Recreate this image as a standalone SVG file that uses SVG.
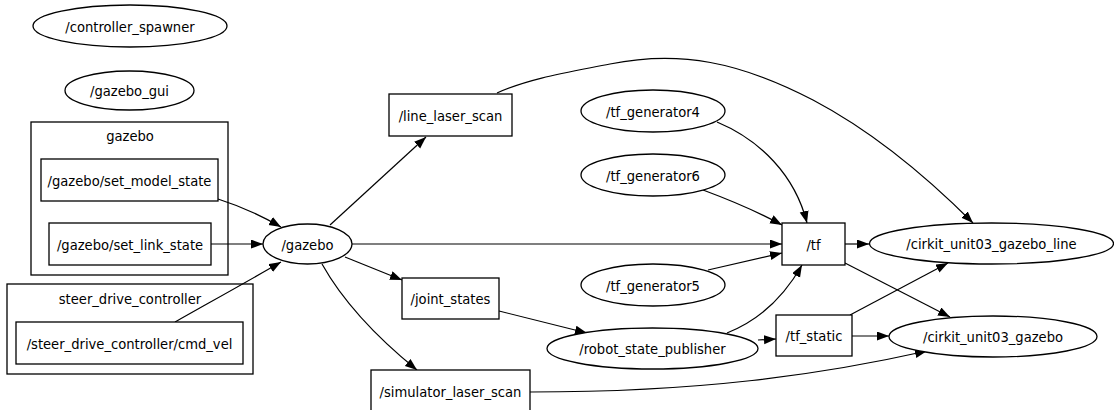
<svg xmlns="http://www.w3.org/2000/svg" width="1114" height="410" viewBox="0 0 1114 410">
<style>
.n{fill:#fff;stroke:#000;stroke-width:1.3}
.c{fill:none;stroke:#000;stroke-width:1.3}
text{font-family:"DejaVu Sans Condensed","DejaVu Sans",sans-serif;font-stretch:condensed;font-size:14.6px;text-anchor:middle;dominant-baseline:central;fill:#000}
#edges path{fill:none;stroke:#000;stroke-width:1.2;marker-end:url(#ah)}
</style>
<defs>
<marker id="ah" markerUnits="userSpaceOnUse" markerWidth="13" markerHeight="10" refX="12" refY="4.5" orient="auto">
<path d="M0,0 L12,4.5 L0,9 z" fill="#000"/>
</marker>
</defs>
<rect width="1114" height="410" fill="#fff"/>
<g id="cluster_gazebo"><rect class="c" x="31" y="122" width="197" height="153"/><text x="130" y="135">gazebo</text></g>
<g id="cluster_steer"><rect class="c" x="7" y="284" width="246" height="90"/><text x="130" y="298">steer_drive_controller</text></g>
<g id="edges">
<path d="M218,199 C240,206 262,216 281,227"/>
<path d="M211,244 L263,244"/>
<path d="M175,322 C205,305 250,280 281,262"/>
<path d="M330,225 L426,137"/>
<path d="M352,244 L782,244"/>
<path d="M345,257 L402,280"/>
<path d="M322,264 C345,305 380,340 417,370"/>
<path d="M497,93 C530,78 570,72 610,64 C680,50 740,62 813,100 C870,130 925,175 973,223"/>
<path d="M717,122 C760,140 795,175 807,223"/>
<path d="M703,190 C730,200 760,213 782,225"/>
<path d="M708,270 L782,253"/>
<path d="M727,333 C760,320 785,295 802,265"/>
<path d="M499,311 L587,333"/>
<path d="M758,340 L776,339"/>
<path d="M845,244 L869,244"/>
<path d="M845,263 L950,317"/>
<path d="M850,315 L948,263"/>
<path d="M852,336 L889,336"/>
<path d="M530,392 C700,392 820,375 927,351"/>
</g>
<g id="controller_spawner"><ellipse class="n" cx="130" cy="26" rx="97" ry="21"/><text x="130" y="26">/controller_spawner</text></g>
<g id="gazebo_gui"><ellipse class="n" cx="129.5" cy="90.5" rx="64.5" ry="19.5"/><text x="129.5" y="90.5">/gazebo_gui</text></g>
<g id="set_model_state"><rect class="n" x="41" y="159" width="177" height="42"/><text x="129.5" y="180">/gazebo/set_model_state</text></g>
<g id="set_link_state"><rect class="n" x="49" y="223" width="162" height="42"/><text x="130" y="244">/gazebo/set_link_state</text></g>
<g id="cmd_vel"><rect class="n" x="16" y="322" width="227" height="42"/><text x="129.5" y="343">/steer_drive_controller/cmd_vel</text></g>
<g id="gazebo"><ellipse class="n" cx="307.5" cy="244" rx="44.5" ry="20"/><text x="307.5" y="244">/gazebo</text></g>
<g id="line_laser_scan"><rect class="n" x="389" y="94" width="123" height="42"/><text x="450.5" y="115">/line_laser_scan</text></g>
<g id="joint_states"><rect class="n" x="402" y="278" width="97" height="41"/><text x="450.5" y="298.5">/joint_states</text></g>
<g id="simulator_laser_scan"><rect class="n" x="371" y="370" width="159" height="42"/><text x="450.5" y="391">/simulator_laser_scan</text></g>
<g id="tf_generator4"><ellipse class="n" cx="653" cy="111" rx="72" ry="21"/><text x="653" y="111">/tf_generator4</text></g>
<g id="tf_generator6"><ellipse class="n" cx="653" cy="175" rx="72" ry="21"/><text x="653" y="175">/tf_generator6</text></g>
<g id="tf_generator5"><ellipse class="n" cx="653" cy="285" rx="72" ry="21"/><text x="653" y="285">/tf_generator5</text></g>
<g id="robot_state_publisher"><ellipse class="n" cx="652.5" cy="348.5" rx="105.5" ry="20.5"/><text x="652.5" y="348.5">/robot_state_publisher</text></g>
<g id="tf"><rect class="n" x="782" y="223" width="63" height="42"/><text x="813.5" y="244">/tf</text></g>
<g id="tf_static"><rect class="n" x="776" y="315" width="76" height="41"/><text x="814" y="335.5">/tf_static</text></g>
<g id="cirkit_unit03_gazebo_line"><ellipse class="n" cx="991.5" cy="243.5" rx="122" ry="20.5"/><text x="991.5" y="243.5">/cirkit_unit03_gazebo_line</text></g>
<g id="cirkit_unit03_gazebo"><ellipse class="n" cx="993" cy="336.5" rx="104" ry="20.5"/><text x="993" y="336.5">/cirkit_unit03_gazebo</text></g>
</svg>
